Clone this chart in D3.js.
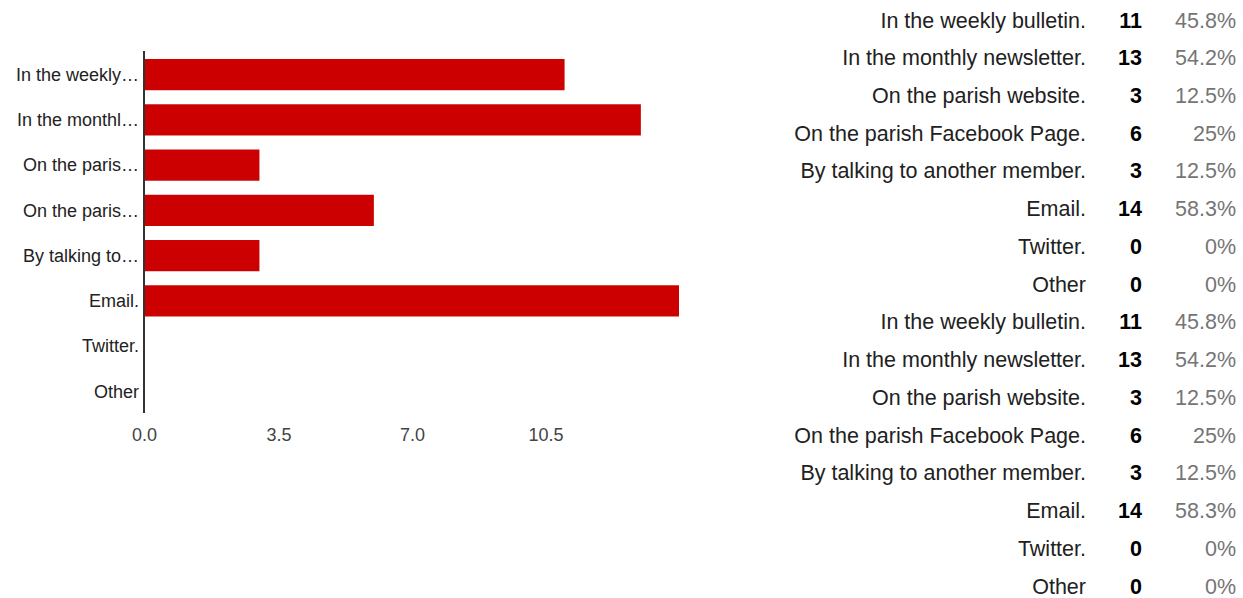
<!DOCTYPE html>
<html>
<head>
<meta charset="utf-8">
<script src="https://cdn.jsdelivr.net/npm/d3@7"></script>
<style>
  html, body { margin: 0; padding: 0; background: #fff; }
  svg { display: block; font-family: Arial, "Liberation Sans", sans-serif; }
</style>
</head>
<body>
<svg id="chart" width="1243" height="598"></svg>
<script>
// ---- data ----
const categories = [
  "In the weekly bulletin.",
  "In the monthly newsletter.",
  "On the parish website.",
  "On the parish Facebook Page.",
  "By talking to another member.",
  "Email.",
  "Twitter.",
  "Other"
];
const shortLabels = [
  "In the weekly…",
  "In the monthl…",
  "On the paris…",
  "On the paris…",
  "By talking to…",
  "Email.",
  "Twitter.",
  "Other"
];
const counts = [11, 13, 3, 6, 3, 14, 0, 0];
const percents = ["45.8%", "54.2%", "12.5%", "25%", "12.5%", "58.3%", "0%", "0%"];
const xTicks = [0, 3.5, 7, 10.5];
const tickLabels = ["0.0", "3.5", "7.0", "10.5"];

// ---- chart ----
const svg = d3.select("#chart");

const x = d3.scaleLinear().domain([0, 14]).range([145, 679]);
const y = d3.scaleBand().domain(d3.range(categories.length))
  .range([52, 414]).paddingInner(0.31).paddingOuter(0.155);

svg.append("g").selectAll("rect")
  .data(counts)
  .join("rect")
  .attr("x", x(0))
  .attr("y", (d, i) => y(i))
  .attr("width", d => x(d) - x(0))
  .attr("height", y.bandwidth())
  .attr("fill", "#cc0000");

// category labels
svg.append("g").selectAll("text")
  .data(shortLabels)
  .join("text")
  .attr("x", 139)
  .attr("y", (d, i) => y(i) + y.bandwidth() / 2)
  .attr("dy", "0.35em")
  .attr("text-anchor", "end")
  .attr("font-size", 18)
  .attr("fill", "#222")
  .text(d => d);

// baseline axis line
svg.append("line")
  .attr("x1", 144).attr("x2", 144)
  .attr("y1", 51).attr("y2", 413)
  .attr("stroke", "#333").attr("stroke-width", 2);

// x axis tick labels
const xAxis = d3.axisBottom(x)
  .tickValues(xTicks)
  .tickSize(0)
  .tickPadding(0)
  .tickFormat((d, i) => tickLabels[i]);
const gx = svg.append("g").attr("transform", "translate(0,435)").call(xAxis);
gx.select(".domain").remove();
gx.selectAll("text")
  .attr("font-size", 18)
  .attr("font-family", "Arial, 'Liberation Sans', sans-serif")
  .attr("fill", "#444")
  .attr("dy", "0.35em")
  .attr("y", 0);
gx.selectAll("text").each(function(d, i) { if (i === 0) d3.select(this).attr("x", -1); });

// ---- right table (repeated twice) ----
const rows = categories.concat(categories).map((c, i) => ({
  label: c, count: counts[i % 8], pct: percents[i % 8]
}));
const ry = d3.scaleLinear().domain([0, rows.length - 1]).range([20, 586]);

const tg = svg.append("g");
const rg = tg.selectAll("g").data(rows).join("g")
  .attr("transform", (d, i) => `translate(0,${ry(i)})`);
rg.append("text")
  .attr("x", 1086).attr("dy", "0.35em")
  .attr("text-anchor", "end")
  .attr("font-size", 21.5)
  .attr("fill", "#212121")
  .text(d => d.label);
rg.append("text")
  .attr("x", 1142).attr("dy", "0.35em")
  .attr("text-anchor", "end")
  .attr("font-size", 21.5)
  .attr("font-weight", "bold")
  .attr("fill", "#000")
  .text(d => d.count);
rg.append("text")
  .attr("x", 1236).attr("dy", "0.35em")
  .attr("text-anchor", "end")
  .attr("font-size", 21.5)
  .attr("fill", "#757575")
  .text(d => d.pct);
</script>
</body>
</html>
